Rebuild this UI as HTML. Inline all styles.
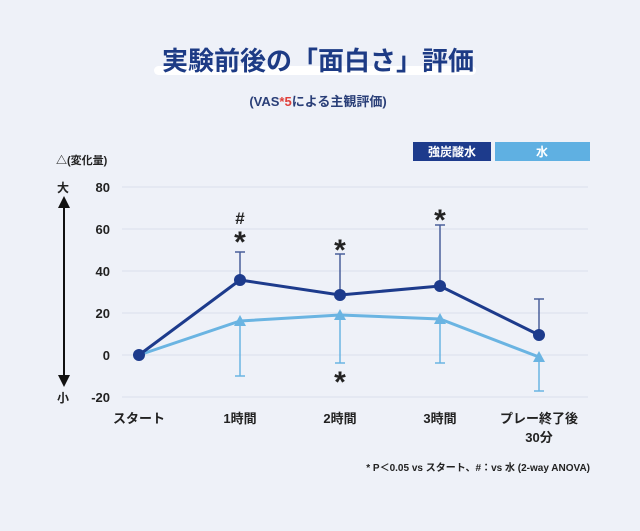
<!DOCTYPE html><html><head><meta charset="utf-8"><style>
body{margin:0;background:#eef1f8;}
svg{display:block;font-family:"Liberation Sans","Noto Sans CJK JP",sans-serif;font-weight:bold;}
</style></head><body>
<svg width="640" height="531" viewBox="0 0 640 531" xmlns="http://www.w3.org/2000/svg">
<rect width="640" height="531" fill="#eef1f8"/>
<rect x="154" y="66" width="322" height="9" rx="4.5" fill="#ffffff"/>
<text x="318" y="70" text-anchor="middle" font-size="26" fill="#1d3b85">実験前後の「面白さ」評価</text>
<text x="318" y="106" text-anchor="middle" font-size="13" fill="#2a3f78">(VAS<tspan fill="#e0403a">*5</tspan>による主観評価)</text>
<rect x="413" y="142" width="78" height="19" fill="#1d3b8c"/>
<text x="452" y="156" text-anchor="middle" font-size="12" fill="#fff">強炭酸水</text>
<rect x="495" y="142" width="95" height="19" fill="#5fb0e2"/>
<text x="542" y="156" text-anchor="middle" font-size="12" fill="#fff">水</text>
<text x="56" y="164" font-size="11" fill="#222">△(変化量)</text>
<g stroke="#dde2ee" stroke-width="1.3">
<line x1="122" y1="187" x2="588" y2="187"/><line x1="122" y1="229" x2="588" y2="229"/>
<line x1="122" y1="271" x2="588" y2="271"/><line x1="122" y1="313" x2="588" y2="313"/>
<line x1="122" y1="355" x2="588" y2="355"/><line x1="122" y1="397" x2="588" y2="397"/>
</g>
<g font-size="13" fill="#222" text-anchor="end">
<text x="110" y="192">80</text><text x="110" y="234">60</text><text x="110" y="276">40</text>
<text x="110" y="318">20</text><text x="110" y="360">0</text><text x="110" y="402">-20</text>
</g>
<text x="57" y="192" font-size="12" fill="#222">大</text>
<text x="57" y="402" font-size="12" fill="#222">小</text>
<line x1="64" y1="205" x2="64" y2="378" stroke="#111" stroke-width="2"/>
<polygon points="64,196 58,208 70,208" fill="#111"/>
<polygon points="64,387 58,375 70,375" fill="#111"/>
<g font-size="13" fill="#222" text-anchor="middle">
<text x="139" y="423">スタート</text><text x="240" y="423">1時間</text>
<text x="340" y="423">2時間</text><text x="440" y="423">3時間</text>
<text x="539" y="423">プレー終了後</text><text x="539" y="442">30分</text>
</g>
<g stroke="#6ab4e2" stroke-width="1.5">
<line x1="240" y1="321" x2="240" y2="376"/><line x1="235" y1="376" x2="245" y2="376"/>
<line x1="340" y1="315" x2="340" y2="363"/><line x1="335" y1="363" x2="345" y2="363"/>
<line x1="440" y1="319" x2="440" y2="363"/><line x1="435" y1="363" x2="445" y2="363"/>
<line x1="539" y1="357" x2="539" y2="391"/><line x1="534" y1="391" x2="544" y2="391"/>
</g>
<g stroke="#4a5f9a" stroke-width="1.5">
<line x1="240" y1="280" x2="240" y2="252"/><line x1="235" y1="252" x2="245" y2="252"/>
<line x1="340" y1="295" x2="340" y2="254"/><line x1="335" y1="254" x2="345" y2="254"/>
<line x1="440" y1="286" x2="440" y2="225"/><line x1="435" y1="225" x2="445" y2="225"/>
<line x1="539" y1="335" x2="539" y2="299"/><line x1="534" y1="299" x2="544" y2="299"/>
</g>
<polyline points="139,355 240,321 340,315 440,319 539,357" fill="none" stroke="#6ab4e2" stroke-width="3"/>
<g fill="#6ab4e2">
<polygon points="240,315 234,326 246,326"/><polygon points="340,309 334,320 346,320"/>
<polygon points="440,313 434,324 446,324"/><polygon points="539,351 533,362 545,362"/>
</g>
<polyline points="139,355 240,280 340,295 440,286 539,335" fill="none" stroke="#1d3b8c" stroke-width="3"/>
<g fill="#1d3b8c">
<circle cx="139" cy="355" r="6"/><circle cx="240" cy="280" r="6"/><circle cx="340" cy="295" r="6"/>
<circle cx="440" cy="286" r="6"/><circle cx="539" cy="335" r="6"/>
</g>
<g font-size="30" fill="#222" text-anchor="middle">
<text x="240" y="252">*</text><text x="340" y="260">*</text><text x="440" y="230">*</text><text x="340" y="392">*</text>
</g>
<text x="240" y="224" font-size="17" fill="#222" text-anchor="middle">#</text>
<text x="590" y="471" font-size="10" fill="#222" text-anchor="end">* P＜0.05 vs スタート、#：vs 水 (2-way ANOVA)</text>
</svg>
</body></html>
